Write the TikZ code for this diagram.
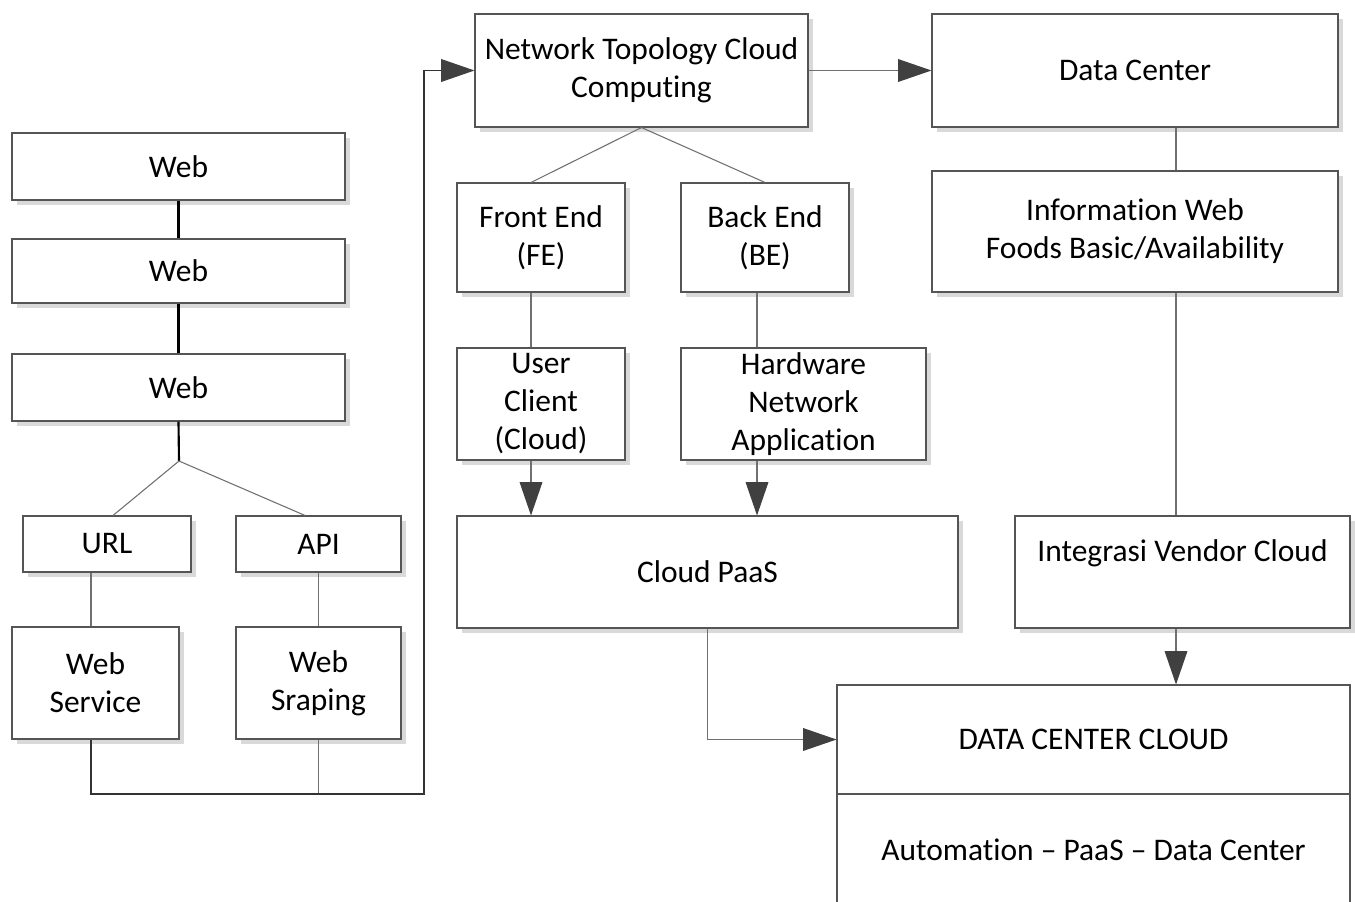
\documentclass[tikz,border=0pt]{standalone}
\usepackage{fontspec}
\setmainfont{Carlito}[Ligatures={NoCommon}]
\usetikzlibrary{arrows.meta,shadows,calc}
\definecolor{edgecol}{HTML}{555555}
\definecolor{conncol}{HTML}{707070}
\definecolor{routecol}{HTML}{333333}
\definecolor{tipcol}{HTML}{404040}
\definecolor{shadecol}{HTML}{D9D9D9}
\tikzset{
  box/.style={draw=edgecol, line width=0.8pt, fill=white, rectangle, inner sep=0pt,
    align=center, font=\fontsize{23.6}{28.5}\selectfont,
    general shadow={fill=shadecol, shadow xshift=3.5pt, shadow yshift=-3.5pt}},
  plainbox/.style={draw=edgecol, line width=0.8pt, fill=white, rectangle, inner sep=0pt,
    align=center, font=\fontsize{23.6}{28.5}\selectfont},
  txt/.style={inner sep=0pt, align=center, font=\fontsize{23.6}{28.5}\selectfont},
  sz/.style 2 args={minimum width=#1*0.75pt, minimum height=#2*0.75pt},
  link/.style={draw=conncol, line width=0.8pt},
  heavy/.style={draw=black, line width=1.6pt},
  route/.style={draw=routecol, line width=1.1pt},
  tipped/.style={-{Triangle[length=25pt, width=17pt, color=tipcol, fill=tipcol]}},
}
\begin{document}
\begin{tikzpicture}[x=0.75pt,y=-0.75pt]
\clip (0,0) rectangle (1355,902);
\useasboundingbox (0,0) rectangle (1355,902);
\fill[white] (0,0) rectangle (1355,902);

% helper coordinates
\coordinate (xl) at (91,0);
\coordinate (xu) at (113,0);
\coordinate (xp) at (305,0);
\coordinate (xf) at (531,0);
\coordinate (xb) at (757,0);
\coordinate (xr) at (1176,0);
\coordinate (br) at (179,461);
\coordinate (j1) at (91,794);
\coordinate (j2) at (424,794);

% left column
\node[box, sz={333}{67}] (web1) at (178.5,166.5) {Web};
\node[box, sz={333}{64}] (web2) at (178.5,271) {Web};
\node[box, sz={333}{67}] (web3) at (178.5,387.5) {Web};
\node[box, sz={168}{56}] (url) at (107,544) {URL};
\node[box, sz={165}{56}] (api) at (318.5,544) {API};
\node[box, sz={167}{112}] (ws) at (95.5,683) {Web\\Service};
\node[box, sz={165}{112}] (wsr) at (318.5,683) {Web\\Sraping};

% middle column
\node[box, sz={333}{113}] (ntc) at (641.5,70.5) {Network Topology Cloud\\Computing};
\node[box, sz={168}{109}] (fe) at (541,237.5) {Front End\\(FE)};
\node[box, sz={168}{109}] (be) at (765,237.5) {Back End\\(BE)};
\node[box, sz={168}{112}] (uc) at (541,404) {User\\Client\\(Cloud)};
\node[box, sz={245}{112}] (hna) at (803.5,404) {Hardware\\Network\\Application};
\node[box, sz={501}{112}] (paas) at (707.5,572) {Cloud PaaS};

% right column
\node[box, sz={406}{113}] (dc) at (1135,70.5) {Data Center};
\node[box, sz={406}{121}] (iw) at (1135,231.5) {Information Web\\Foods Basic/Availability};
\node[box, sz={335}{112}] (ivc) at (1182.5,572) {};
\node[txt] (ivct) at (1182.5,553) {Integrasi Vendor Cloud};
\node[plainbox, sz={513}{109}] (dcct) at (1093.5,739.5) {DATA CENTER CLOUD};
\node[plainbox, sz={513}{112}] (dccb) at (1093.5,850) {Automation -- PaaS -- Data Center};

% connectors: left
\draw[heavy] (web1.south) -- (web2.north);
\draw[heavy] (web2.south) -- (web3.north);
\draw[heavy] (web3.south) -- (br);
\draw[link] (br) -- (url.north -| xu);
\draw[link] (br) -- (api.north -| xp);
\draw[link] (url.south -| xl) -- (ws.north -| xl);
\draw[link] (api.south) -- (wsr.north);
\draw[link] (wsr.south) -- (wsr.south |- j1);
\draw[route, tipped] (ws.south -| xl) -- (j1) -- (j2) |- (ntc.west);

% connectors: middle
\draw[link] (ntc.south) -- (fe.north -| xf);
\draw[link] (ntc.south) -- (be.north);
\draw[link] (fe.south -| xf) -- (uc.north -| xf);
\draw[link] (be.south -| xb) -- (hna.north -| xb);
\draw[link, tipped] (uc.south -| xf) -- (paas.north -| xf);
\draw[link, tipped] (hna.south -| xb) -- (paas.north -| xb);
\draw[link, tipped] (paas.south) |- (dcct.west);
\draw[link, tipped] (ntc.east) -- (dc.west);

% connectors: right
\draw[link] (dc.south -| xr) -- (iw.north -| xr);
\draw[link] (iw.south -| xr) -- (ivc.north -| xr);
\draw[link, tipped] (ivc.south -| xr) -- (dcct.north -| xr);
\end{tikzpicture}
\end{document}
